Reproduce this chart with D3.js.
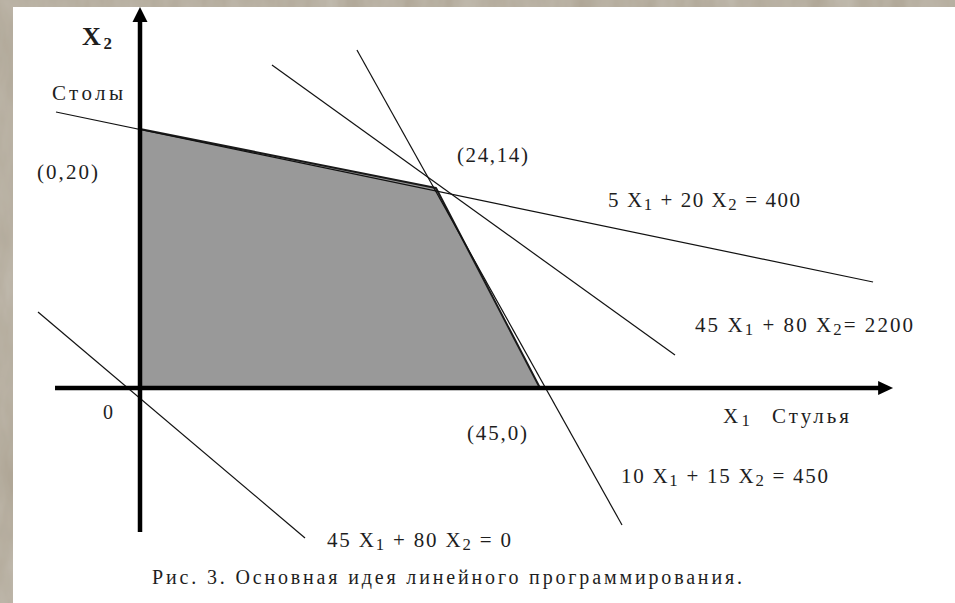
<!DOCTYPE html>
<html>
<head>
<meta charset="utf-8">
<script src="https://cdn.jsdelivr.net/npm/d3@7"></script>
<style>
  html, body { margin: 0; padding: 0; background: #b1a898; }
  svg { display: block; }
</style>
</head>
<body>
<svg id="chart" width="955" height="603"></svg>
<script>
// ---------- DATA (schematic units; labelled points are exact) ----------
const xKeys = [0, 24, 45];          // key abscissas of the schematic
const yKeys = [0, 14, 20];          // key ordinates of the schematic
const feasibleX = [0, 0, 24, 45];   // feasible region vertices
const feasibleY = [0, 20, 14, 0];
const lineNames = ["5x+20y=400", "45x+80y=2200", "10x+15y=450", "45x+80y=0"];
const lineX1 = [-6.81, 10.70, 17.59, -8.27];
const lineY1 = [21.73, 26.51, 28.03, 5.32];
const lineX2 = [112.25, 72.26, 61.56, 13.38];
const lineY2 = [7.42, 2.31, -9.59, -10.50];
const axisXExtent = [-6.89, 116.3];
const axisYExtent = [-10.08, 32.41];
const pointLabels = ["(0,20)", "(24,14)", "(45,0)", "0"];
const caption = "Рис. 3. Основная идея линейного программирования.";

// ---------- SCALES ----------
const x = d3.scaleLinear().domain(xKeys).range([140, 436, 540]);
const y = d3.scaleLinear().domain(yKeys).range([388, 188, 129]);

const svg = d3.select("#chart");

// textured background
const defs = svg.append("defs");
const f = defs.append("filter").attr("id", "stone").attr("x", 0).attr("y", 0).attr("width", "100%").attr("height", "100%");
f.append("feTurbulence").attr("type", "fractalNoise").attr("baseFrequency", "0.035 0.012").attr("numOctaves", 4).attr("seed", 7).attr("result", "n");
f.append("feColorMatrix").attr("in", "n").attr("type", "matrix")
  .attr("values", "0 0 0 0 0.62  0 0 0 0 0.59  0 0 0 0 0.53  0.5 0.5 0 0 -0.28").attr("result", "c");
f.append("feComposite").attr("in", "c").attr("in2", "SourceGraphic").attr("operator", "over");

svg.append("rect").attr("x", 0).attr("y", 0).attr("width", 955).attr("height", 603).attr("fill", "#b0a797");
svg.append("rect").attr("x", 0).attr("y", 0).attr("width", 955).attr("height", 603).attr("fill", "#b0a797").attr("filter", "url(#stone)");
svg.append("rect").attr("x", 13).attr("y", 7).attr("width", 942).attr("height", 596).attr("fill", "#ffffff");

// feasible region
const poly = feasibleX.map((d, i) => [x(d), y(feasibleY[i])]);
svg.append("path")
  .attr("d", d3.line()(poly) + "Z")
  .attr("fill", "#999999")
  .attr("stroke", "#1a1a1a")
  .attr("stroke-width", 2)
  .attr("stroke-linejoin", "round");

// constraint / objective lines
svg.selectAll("line.c").data(lineNames).join("line")
  .attr("class", "c")
  .attr("x1", (d, i) => x(lineX1[i]))
  .attr("y1", (d, i) => y(lineY1[i]))
  .attr("x2", (d, i) => x(lineX2[i]))
  .attr("y2", (d, i) => y(lineY2[i]))
  .attr("stroke", "#111")
  .attr("stroke-width", 1.2);

// axes
const ax = svg.append("g");
const ox = x(0), oy = y(0);
const xEnd = x(axisXExtent[1]), yTop = y(axisYExtent[1]);
ax.append("line").attr("x1", x(axisXExtent[0])).attr("y1", oy).attr("x2", xEnd - 12).attr("y2", oy)
  .attr("stroke", "#000").attr("stroke-width", 4.5);
ax.append("line").attr("x1", ox).attr("y1", y(axisYExtent[0])).attr("x2", ox).attr("y2", yTop + 12)
  .attr("stroke", "#000").attr("stroke-width", 4.5);
ax.append("path").attr("d", `M${xEnd},${oy} L${xEnd - 15},${oy - 7} L${xEnd - 15},${oy + 7} Z`).attr("fill", "#000");
ax.append("path").attr("d", `M${ox},${yTop} L${ox - 7.5},${yTop + 15} L${ox + 7.5},${yTop + 15} Z`).attr("fill", "#000");

// ---------- TEXT ----------
const FONT = "'Liberation Serif', 'Times New Roman', Times, serif";
function label(parts, px, py, size, width, opts = {}) {
  const t = svg.append("text")
    .attr("x", px).attr("y", py)
    .attr("font-family", FONT)
    .attr("font-size", size)
    .attr("font-weight", opts.bold ? "bold" : "normal")
    .attr("fill", "#1e1e1e");
  let shifted = false;
  let n = 0;
  const subSize = size * (opts.subScale || 0.8);
  parts.forEach(p => {
    const s = typeof p === "string" ? p : p[0];
    const sub = typeof p !== "string";
    const ts = t.append("tspan").text(s);
    n += s.length;
    if (sub) {
      ts.attr("font-size", subSize);
      if (!shifted) { ts.attr("dy", size * 0.15); shifted = true; }
    } else if (shifted) { ts.attr("dy", -size * 0.15); shifted = false; }
  });
  if (width) {
    const w = t.node().getComputedTextLength();
    const ls = (width - w) / Math.max(1, n - 1);
    t.attr("letter-spacing", ls);
  }
  return t;
}

label(["X", ["2"]], 82, 45, 26, 30, { bold: true, subScale: 0.65 });
label(["Столы"], 52, 100, 21, 71);
label([pointLabels[0]], 37, 179, 21, 61);
label([pointLabels[1]], 457, 162, 21, 71);
label([pointLabels[2]], 467, 440, 21, 60);
label([pointLabels[3]], 103, 419, 20, 12);
label(["5 X", ["1"], " + 20 X", ["2"], " = 400"], 608, 207, 21, 192);
label(["45 X", ["1"], " + 80 X", ["2"], "= 2200"], 695, 332, 21, 218);
label(["X", ["1"]], 723, 423, 21, 27);
label(["Стулья"], 772, 423, 21, 77);
label(["10 X", ["1"], " + 15 X", ["2"], " = 450"], 621, 483, 21, 207);
label(["45 X", ["1"], " + 80 X", ["2"], " = 0"], 327, 547, 21, 184);
label([caption], 152, 584, 20, 590);
</script>
</body>
</html>
